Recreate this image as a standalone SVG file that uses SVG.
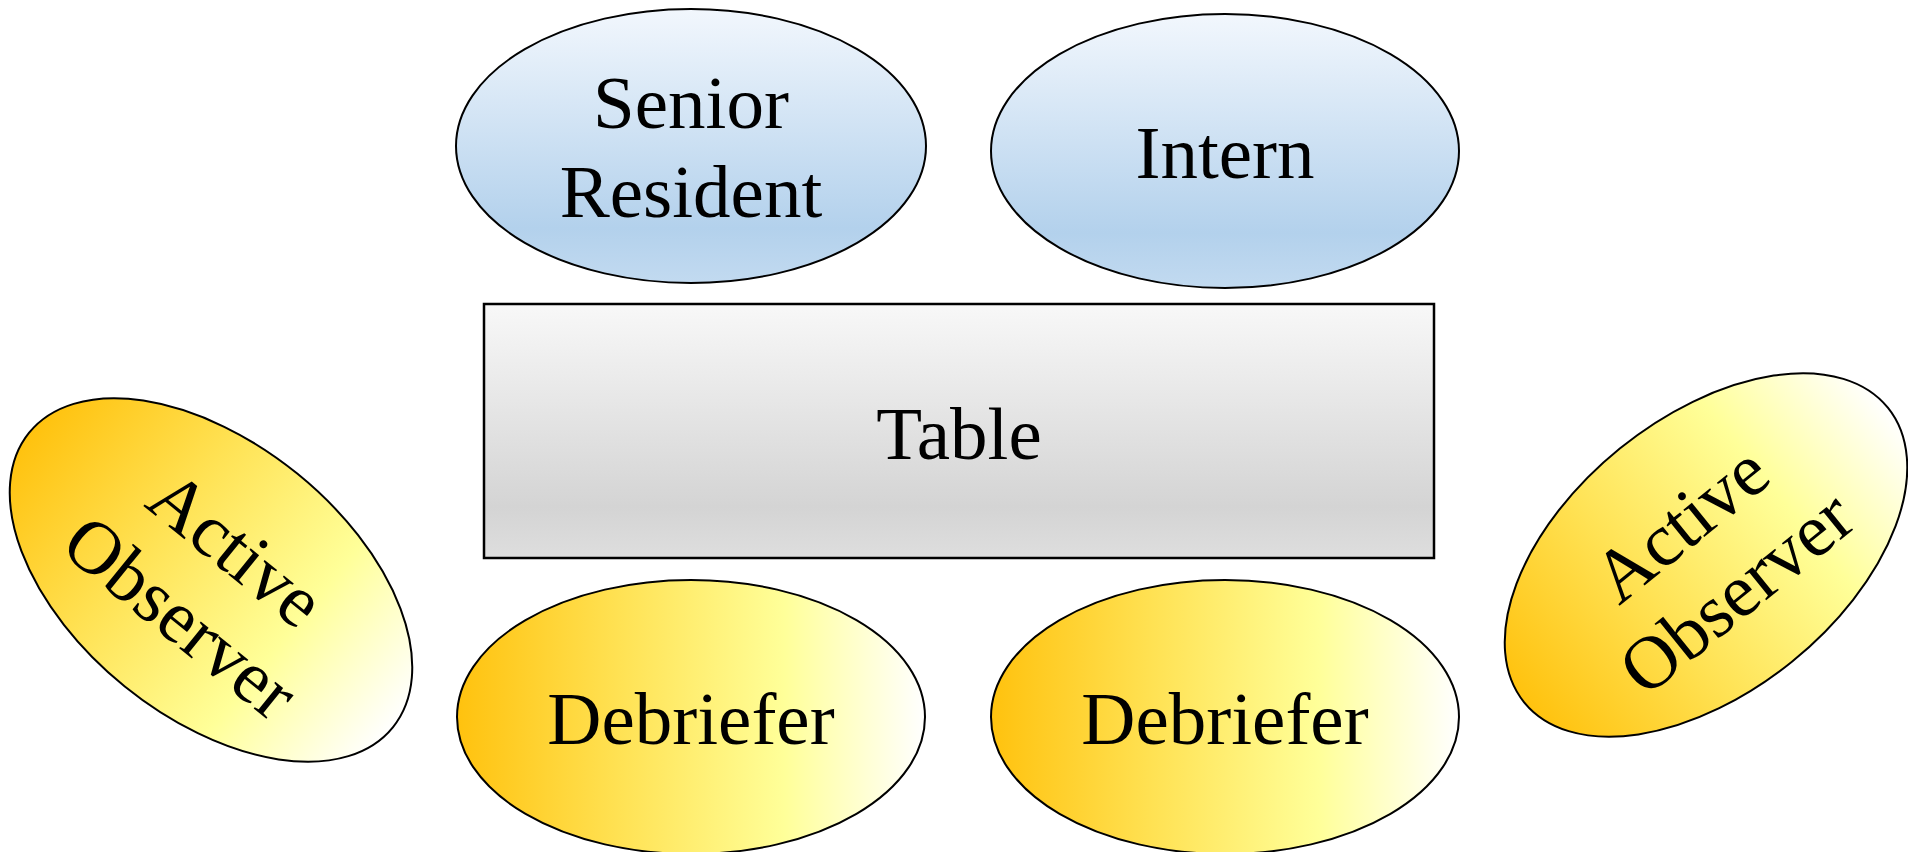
<svg xmlns="http://www.w3.org/2000/svg" width="1908" height="852" viewBox="0 0 1908 852">
<defs>
<linearGradient id="gBlue" x1="0" y1="0" x2="0" y2="1">
<stop offset="0" stop-color="#f2f7fd"/>
<stop offset="0.8" stop-color="#b3d1ec"/>
<stop offset="1" stop-color="#c2daf0"/>
</linearGradient>
<linearGradient id="gGray" x1="0" y1="0" x2="0" y2="1">
<stop offset="0" stop-color="#f8f8f8"/>
<stop offset="0.8" stop-color="#d4d4d4"/>
<stop offset="1" stop-color="#dedede"/>
</linearGradient>
<linearGradient id="gYel" x1="0" y1="0" x2="1" y2="0">
<stop offset="0" stop-color="#ffc20e"/>
<stop offset="0.35" stop-color="#ffe254"/>
<stop offset="0.7" stop-color="#ffff99"/>
<stop offset="1" stop-color="#ffffff"/>
</linearGradient>
<style>
.sh{stroke:#000;stroke-width:2}
.t{font-family:"Liberation Serif","Times New Roman",serif;font-size:75px;fill:#000;text-anchor:middle}
</style>
</defs>
<rect width="1908" height="852" fill="#fff"/>
<g id="connectors"/>
<g id="senior-resident">
<ellipse class="sh" cx="691" cy="146" rx="235" ry="137" fill="url(#gBlue)"/>
<text class="t" x="691" y="128">Senior</text>
<text class="t" x="691" y="217">Resident</text>
</g>
<g id="intern">
<ellipse class="sh" cx="1225" cy="151" rx="234" ry="137" fill="url(#gBlue)"/>
<text class="t" x="1225" y="178">Intern</text>
</g>
<g id="table">
<rect x="484" y="304" width="950" height="254" fill="url(#gGray)" stroke="#000" stroke-width="2.5"/>
<text class="t" x="959" y="459">Table</text>
</g>
<g id="debriefer-left">
<ellipse class="sh" cx="691" cy="717" rx="234" ry="137" fill="url(#gYel)"/>
<text class="t" x="691" y="744">Debriefer</text>
</g>
<g id="debriefer-right">
<ellipse class="sh" cx="1225" cy="717" rx="234" ry="137" fill="url(#gYel)"/>
<text class="t" x="1225" y="744">Debriefer</text>
</g>
<g id="active-observer-left" transform="translate(211 580) rotate(39)">
<ellipse class="sh" cx="0" cy="0" rx="234" ry="137" fill="url(#gYel)"/>
<text class="t" x="0" y="-15">Active</text>
<text class="t" x="0" y="73">Observer</text>
</g>
<g id="active-observer-right" transform="translate(1706 555) rotate(-39)">
<ellipse class="sh" cx="0" cy="0" rx="234" ry="137" fill="url(#gYel)"/>
<text class="t" x="0" y="-15">Active</text>
<text class="t" x="0" y="73">Observer</text>
</g>
</svg>
